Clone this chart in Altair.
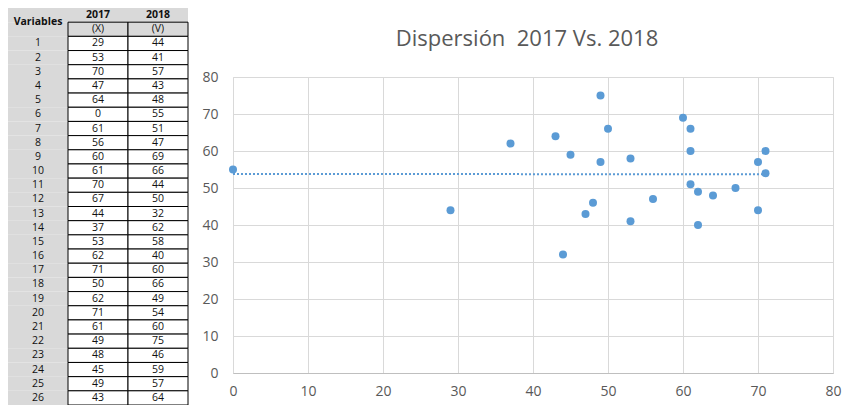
import altair as alt
import pandas as pd

# ---------------- data ----------------
ids = list(range(1, 27))
x2017 = [29, 53, 70, 47, 64, 0, 61, 56, 60, 61, 70, 67, 44, 37, 53, 62, 71, 50, 62, 71, 61, 49, 48, 45, 49, 43]
y2018 = [44, 41, 57, 43, 48, 55, 51, 47, 69, 66, 44, 50, 32, 62, 58, 40, 60, 66, 49, 54, 60, 75, 46, 59, 57, 64]
columns = ["Variables", "2017", "2018"]
value_cols = ["2017", "2018"]
subheaders = ["(X)", "(V)"]
header_rows = ["h1", "h2"]
axis_ticks = [0, 10, 20, 30, 40, 50, 60, 70, 80]
title_text = "Dispersi\u00f3n\u00a0 2017 Vs. 2018"

row_keys = header_rows + [str(i) for i in ids]

FONT = "Open Sans"
BLUE = "#5b9bd5"
GRAY_TXT = "#595959"
GRID = "#d9d9d9"
TABLE_GRAY = "#d9d9d9"

# ---------------- scatter ----------------
pts = pd.DataFrame({"x": x2017, "y": y2018})

xs = alt.Scale(domain=[0, 80], nice=False)
ys = alt.Scale(domain=[0, 80], nice=False)

xaxis = alt.Axis(values=axis_ticks, title=None, grid=True, gridColor=GRID, ticks=False,
                 domainColor="#bfbfbf", labelColor=GRAY_TXT, labelFont=FONT,
                 labelFontSize=14, labelPadding=11, labelFlush=False)
yaxis = alt.Axis(values=axis_ticks, title=None, grid=True, gridColor=GRID, ticks=False,
                 domain=False, labelColor=GRAY_TXT, labelFont=FONT,
                 labelFontSize=14, labelPadding=15, labelFlush=False)

points = alt.Chart(pts).mark_circle(size=64, opacity=1, color=BLUE).encode(
    x=alt.X("x:Q", scale=xs, axis=xaxis),
    y=alt.Y("y:Q", scale=ys, axis=yaxis),
)
trend = alt.Chart(pts).transform_regression("x", "y").mark_line(
    color=BLUE, strokeWidth=2, strokeDash=[2, 2]
).encode(
    x=alt.X("x:Q", scale=xs, axis=xaxis),
    y=alt.Y("y:Q", scale=ys, axis=yaxis),
)
title_df = pd.DataFrame({"t": [title_text]})
title_mark = alt.Chart(title_df).mark_text(
    font=FONT, fontSize=22, color=GRAY_TXT, baseline="alphabetic", align="center", dx=-6
).encode(
    x=alt.datum(40, scale=xs),
    y=alt.value(-31),
    text="t:N",
)
scatter = alt.layer(trend, points, title_mark)

# ---------------- table ----------------
tx = alt.Scale(domain=columns, range=[-225, -45], paddingInner=0, paddingOuter=0)
ty = alt.Scale(domain=row_keys, range=[-69, 328], paddingInner=0, paddingOuter=0)

bg_cells = [{"col": "Variables", "row": r} for r in row_keys]
bg_cells += [{"col": c, "row": "h1"} for c in value_cols]
bg_df = pd.DataFrame(bg_cells)

boxed = [{"col": c, "row": "h2", "fill": TABLE_GRAY} for c in value_cols]
for i in ids:
    for c in value_cols:
        boxed.append({"col": c, "row": str(i), "fill": "white"})
boxed_df = pd.DataFrame(boxed)

normal_txt = [{"col": c, "row": "h2", "t": s} for c, s in zip(value_cols, subheaders)]
for i, a, b in zip(ids, x2017, y2018):
    normal_txt.append({"col": "Variables", "row": str(i), "t": str(i)})
    normal_txt.append({"col": "2017", "row": str(i), "t": str(a)})
    normal_txt.append({"col": "2018", "row": str(i), "t": str(b)})
normal_df = pd.DataFrame(normal_txt)

bold_df = pd.DataFrame([{"col": c, "row": "h1", "t": c} for c in value_cols])
var_df = pd.DataFrame([{"col": "Variables", "row": "h1", "t": "Variables"}])

X_T = alt.X("col:N", scale=tx, axis=None)
Y_T = alt.Y("row:O", scale=ty, axis=None)

TFS = 10.5
bg_layer = alt.Chart(bg_df).mark_rect(color=TABLE_GRAY).encode(x=X_T, y=Y_T)
box_layer = alt.Chart(boxed_df).mark_rect(stroke="black", strokeWidth=1).encode(
    x=X_T, y=Y_T, fill=alt.Fill("fill:N", scale=None)
)
txt_layer = alt.Chart(normal_df).mark_text(font=FONT, fontSize=TFS, color="#111111").encode(
    x=X_T, y=Y_T, text="t:N"
)
bold_layer = alt.Chart(bold_df).mark_text(font=FONT, fontSize=TFS, fontWeight="bold", color="#111111").encode(
    x=X_T, y=Y_T, text="t:N"
)
var_layer = alt.Chart(var_df).mark_text(font=FONT, fontSize=TFS, fontWeight="bold", color="#111111").encode(
    x=X_T, y=alt.Y("row:O", scale=ty, axis=None, bandPosition=1), text="t:N"
)
table = alt.layer(bg_layer, box_layer, txt_layer, bold_layer, var_layer)

chart = alt.layer(scatter, table).resolve_scale(
    x="independent", y="independent"
).properties(
    width=600,
    height=296,
    autosize=alt.AutoSizeParams(type="none"),
    padding={"left": 225, "top": 69, "right": 10, "bottom": 32},
).configure_view(strokeWidth=0).configure(background="white")

chart.save("out.html", embed_options={"renderer": "svg", "actions": False})
